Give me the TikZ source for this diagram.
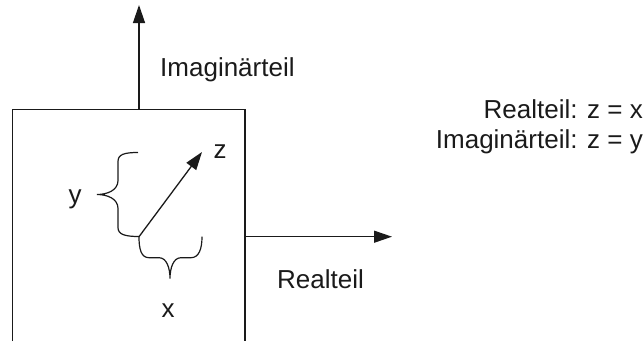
\documentclass[tikz,border=0pt]{standalone}
\usepackage{fontspec}
\setmainfont{Liberation Sans}
\usepackage{xcolor}
\usetikzlibrary{arrows.meta}
\definecolor{czInk}{HTML}{1A1A1A}
\tikzset{
  axisline/.style={czInk,line width=1.3pt,-{Triangle[length=18pt,width=12pt]}},
  cbrace/.style={czInk,line width=1.2pt},
  lbl/.style={czInk,inner sep=0pt,font=\fontsize{26}{30}\selectfont},
}

\begin{document}
\begin{tikzpicture}[x=1pt,y=1pt]
\useasboundingbox (0,0) rectangle (644,341);
% frame and axes
\coordinate (boxbl) at (12.5,0);
\coordinate (boxtr) at (245,231.3);
\coordinate (imfoot) at (139,231.3);
\coordinate (imtip) at (139,336);
\coordinate (refoot) at (245,104.3);
\coordinate (retip) at (392,104.3);
\draw[czInk,line width=1.3pt] (boxbl) |- (boxtr) -- (boxtr |- boxbl);
\draw[axisline] (imfoot) -- (imtip);
\draw[axisline] (refoot) -- (retip);
\node[lbl,anchor=base west] (imlbl) at (160,265) {Imagin\"arteil};
\node[lbl,anchor=base west] (relbl) at (277,53) {Realteil};
% the pointer z and its parts
\coordinate (o) at (139,104.3);
\coordinate (zt) at (202,189);
\draw[axisline] (o) -- (zt);
\node[lbl,anchor=base] (zlbl) at (220,183) {z};
\coordinate (yhi) at (138,188.5);
\draw[cbrace] (yhi) .. controls +(-14,0) and +(0,7) .. ++(-20,-9)
  -- ++(0,-19) .. controls +(0,-10) and +(10,0) .. ++(-21,-14)
  .. controls +(10,0) and +(0,10) .. ++(21,-14)
  -- ++(0,-19) .. controls +(0,-7) and +(-14,0) .. ++(21,-9);
\node[lbl,anchor=base] (ylbl) at (75,138) {y};
\coordinate (xlo) at (139,104.3);
\draw[cbrace] (xlo) .. controls +(0,-12) and +(-8,0) .. ++(10,-21)
  -- ++(10,0) .. controls +(8,0) and +(0,10) .. ++(11,-21)
  .. controls +(0,10) and +(-8,0) .. ++(11,21)
  -- ++(10,0) .. controls +(8,0) and +(0,-12) .. ++(11,21);
\node[lbl,anchor=base] (xlbl) at (168,24) {x};
% legend
\node[lbl,anchor=base east] (legre) at (643,223) {Realteil: z = x};
\node[lbl,anchor=base east] (legim) at (643,193) {Imagin\"arteil: z = y};
\end{tikzpicture}
\end{document}
